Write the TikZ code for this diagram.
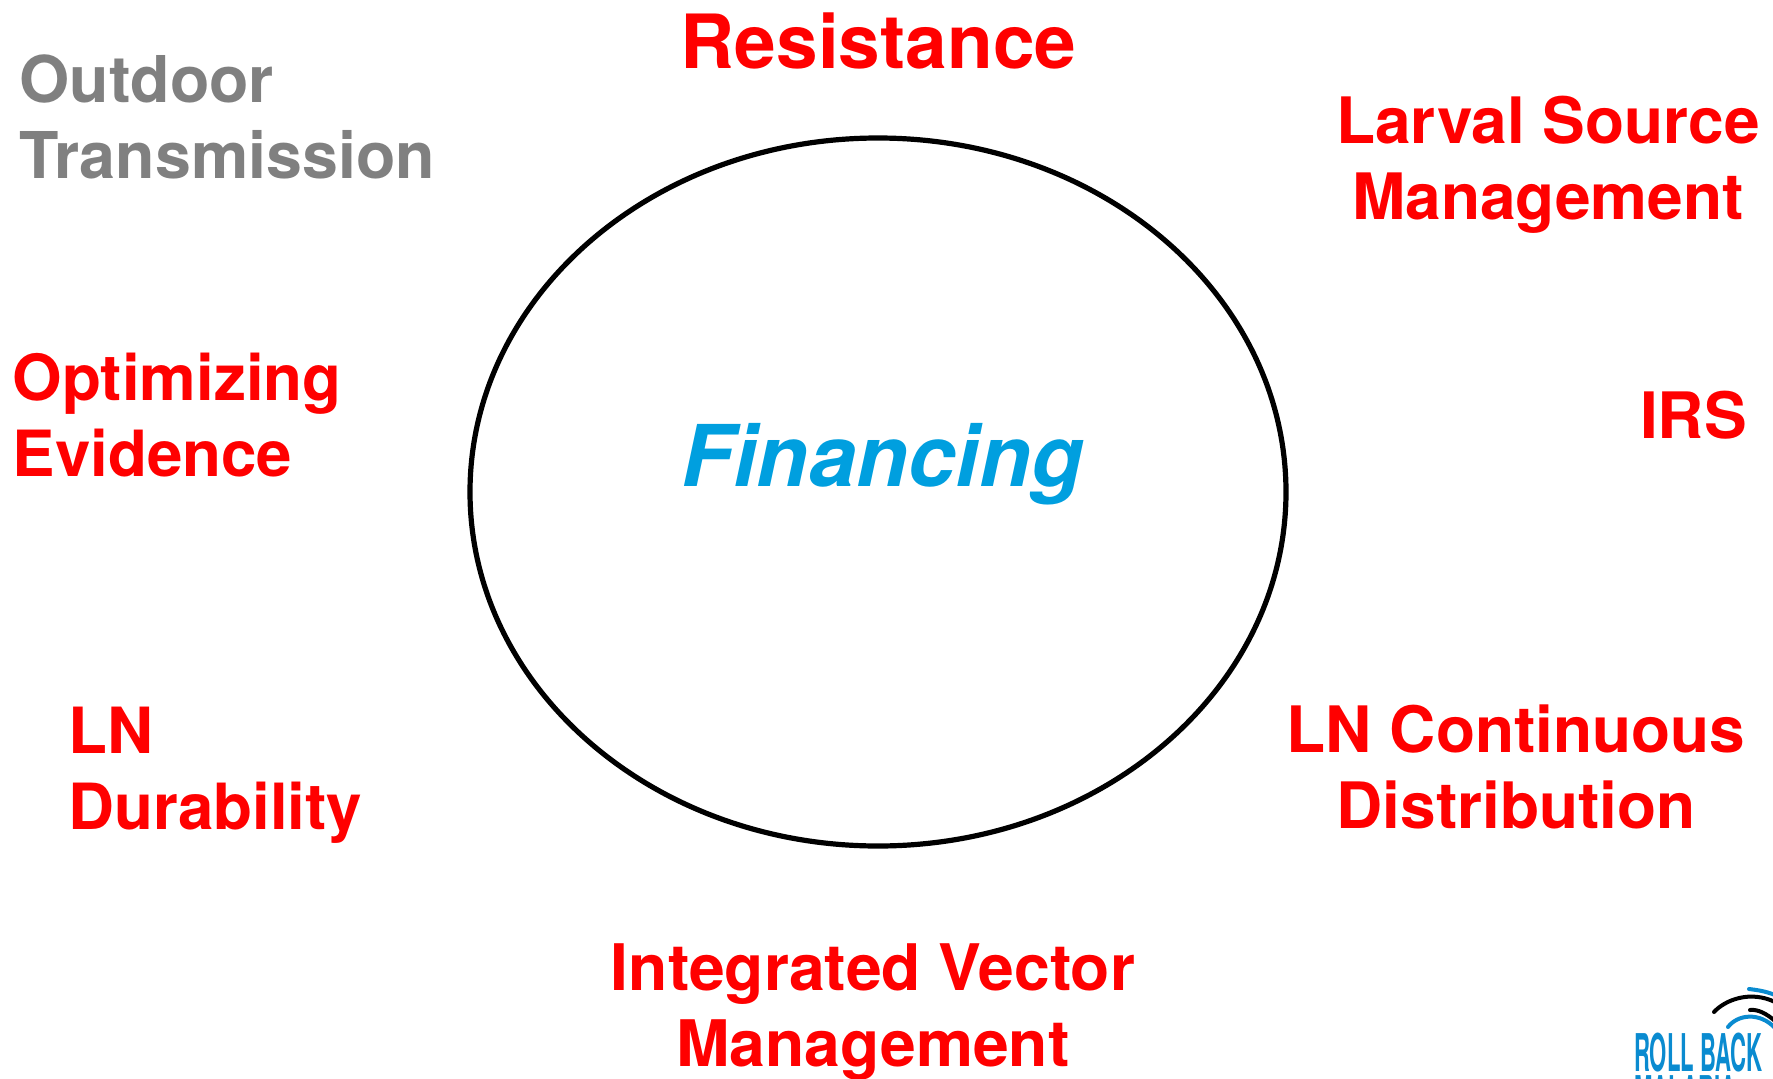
\documentclass[tikz,border=0pt]{standalone}
\usepackage{fontspec}
\usetikzlibrary{shapes.geometric}
\setmainfont{TeX Gyre Heros}
\definecolor{finblue}{HTML}{009FDF}
\definecolor{logoblue}{HTML}{0A8BD0}
\definecolor{labgray}{HTML}{808080}
\tikzset{
  lab/.style={inner sep=0pt,text=red,font=\fontsize{64}{76}\selectfont\bfseries},
  labl/.style={lab,align=left,anchor=base west},
  labc/.style={lab,align=center,anchor=base},
  logoarc/.style={line width=4pt,line cap=round},
  logotext/.style={inner sep=0pt,anchor=base west,text=logoblue,xscale=0.425,yscale=1.0,transform shape,font=\fontsize{52}{52}\selectfont\bfseries},
}
\begin{document}
\begin{tikzpicture}[x=1pt,y=-1pt]
\useasboundingbox (0,0) rectangle (1773,1079);
\clip (0,0) rectangle (1773,1079);
\fill[white] (0,0) rectangle (1773,1079);
\node[draw=black,line width=5.2pt,ellipse,minimum width=816pt,minimum height=708pt,inner sep=0pt] (ring) at (878,492) {};
\node[inner sep=0pt,anchor=base west,text=finblue,font=\fontsize{85.2}{90}\selectfont\bfseries\itshape] (fin) at (681,486) {Financing};
\node[lab,anchor=base,font=\fontsize{74.8}{80}\selectfont\bfseries] (res) at (878.6,68.5) {Resistance};
\node[labl,text=labgray,font=\fontsize{64.5}{76}\selectfont\bfseries] (out) at (19.5,178.5) {Outdoor\\Transmission};
\node[labc] (lsm) at (1548,219) {Larval Source\\Management};
\node[labl,font=\fontsize{63.7}{76}\selectfont\bfseries] (opt) at (12.5,476.5) {Optimizing\\Evidence};
\node[labc] (irs) at (1693.5,438) {IRS};
\node[labl,font=\fontsize{63.7}{76}\selectfont\bfseries] (lnd) at (68,829) {LN\\Durability};
\node[labc,font=\fontsize{64.2}{76}\selectfont\bfseries] (ivm) at (873,1066.5) {Integrated Vector\\Management};
\node[labc] (lnc) at (1516,828) {LN Continuous\\Distribution};
% logo
\draw[logoarc,black] (1714,1012) .. controls (1725,1000) and (1750,990) .. (1775,1002);
\draw[logoarc,black] (1750,1010) .. controls (1758,1009) and (1767,1014) .. (1775,1021);
\draw[logoarc,logoblue] (1749,989) .. controls (1757,990) and (1765,991) .. (1775,995);
\draw[logoarc,logoblue] (1728,1027) .. controls (1738,1014) and (1760,1012) .. (1775,1028);
\node[logotext] (rb) at (1634,1071) {ROLL BACK};
\node[logotext] (mal) at (1634,1113) {MALARIA};
\end{tikzpicture}
\end{document}
